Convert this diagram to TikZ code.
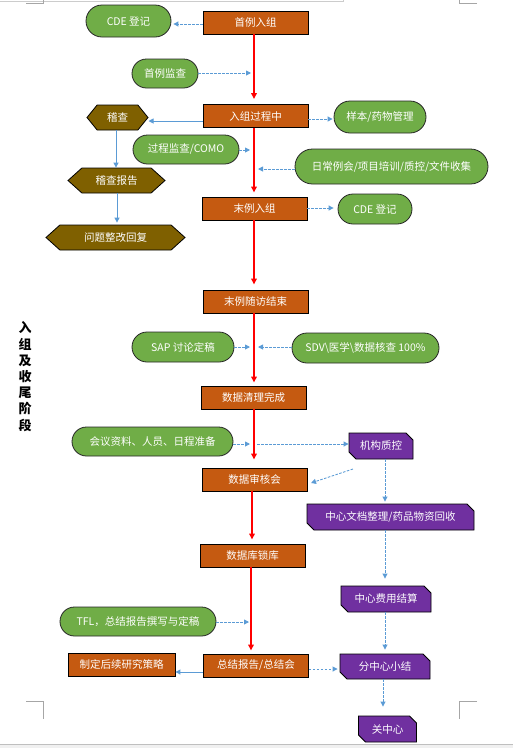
\documentclass[tikz,border=0pt]{standalone}
\usepackage{fontspec}
\newfontfamily\cjk{Noto Sans CJK SC}
\usetikzlibrary{arrows.meta,shapes.misc,shapes.symbols}
\definecolor{og}{HTML}{C55A11}
\definecolor{gr}{HTML}{70AD47}
\definecolor{br}{HTML}{7F6000}
\definecolor{pu}{HTML}{7030A0}
\definecolor{bl}{HTML}{5B9BD5}
\definecolor{pg}{HTML}{A6A6A6}
\tikzset{
  txt/.style={font=\cjk\fontsize{10.5}{12}\selectfont, text=white, inner sep=0pt},
  obox/.style={txt, rectangle, draw=black, line width=0.9pt, fill=og, minimum width=105pt, minimum height=23pt},
  gbox/.style={txt, rounded rectangle, draw=black!85, line width=0.8pt, fill=gr, minimum height=29pt},
  hbox/.style={txt, signal, signal to=west and east, draw=black, line width=0.8pt, fill=br, minimum height=25pt},
  pbox/.style={txt, chamfered rectangle, chamfered rectangle corners={north east,south west},
    chamfered rectangle xsep=3.5pt, chamfered rectangle ysep=3.5pt, draw=black, line width=0.9pt, fill=pu, minimum height=26pt},
  redarr/.style={draw=red, line width=1.8pt, -{Triangle[length=6pt,width=5.5pt]}},
  bldash/.style={draw=bl, line width=0.9pt, dash pattern=on 2.5pt off 1.5pt, -{Triangle[length=5pt,width=5pt]}},
  blsolid/.style={draw=bl, line width=1pt, -{Triangle[length=5pt,width=5pt]}},
  pagemark/.style={draw=pg, line width=0.8pt},
  sidetxt/.style={font=\cjk\bfseries\fontsize{13}{16.2}\selectfont, text=black, align=center, inner sep=0pt}
}
\begin{document}
\begin{tikzpicture}[x=1pt,y=-1pt]
\useasboundingbox (0,0) rectangle (513,748);
% page artefacts
\fill[black!6] (0,744) rectangle (513,748);
\draw[draw=black!25, line width=0.8pt] (0,744) -- (513,744);
\draw[draw=black!20, line width=0.8pt] (0,1.5) -- (343,1.5) -- (343,0);
\draw[pagemark] (26,3) -- (43,3) -- (43,0);
\draw[pagemark] (477,3) -- (459,3) -- (459,0);
\draw[pagemark] (26,701) -- (43,701) -- (43,719);
\draw[pagemark] (477,701) -- (459,701) -- (459,719);

% side title
\node[sidetxt] (title) at (25,376.5) {入\\组\\及\\收\\尾\\阶\\段};

% main column
\node[obox] (A) at (255.5,22.5) {首例入组};
\node[obox] (B) at (255.5,116) {入组过程中};
\node[obox] (C) at (254.5,208.5) {末例入组};
\node[obox] (D) at (255.5,301.5) {末例随访结束};
\node[obox] (E) at (253.5,397.5) {数据清理完成};
\node[obox] (F) at (254.5,479.5) {数据审核会};
\node[obox] (G) at (252.5,555.5) {数据库锁库};
\node[obox] (H) at (256,665.5) {总结报告/总结会};
\node[obox, minimum width=107pt] (I) at (121.5,664.5) {制定后续研究策略};

% green
\node[gbox, minimum width=85pt, minimum height=32pt] (g1) at (128.5,21) {CDE 登记};
\node[gbox, minimum width=66pt] (g2) at (165,73.5) {首例监查};
\node[gbox, minimum width=92pt, minimum height=32pt] (g3) at (380,117) {样本/药物管理};
\node[gbox, minimum width=106pt] (g4) at (186,149.5) {过程监查/COMO};
\node[gbox, minimum width=193pt, minimum height=35pt] (g5) at (391.5,166.5) {日常例会/项目培训/质控/文件收集};
\node[gbox, minimum width=74pt, minimum height=30pt] (g6) at (375,209) {CDE 登记};
\node[gbox, minimum width=102pt, minimum height=30pt] (g7) at (183,347) {SAP 讨论定稿};
\node[gbox, minimum width=147pt, minimum height=30pt] (g8) at (365.5,348) {SDV\textbackslash 医学\textbackslash 数据核查 100\%};
\node[gbox, minimum width=161pt] (g9) at (152.5,441.5) {会议资料、人员、日程准备};
\node[gbox, minimum width=156pt] (g10) at (138,621.5) {TFL，总结报告撰写与定稿};

% hexagons
\node[hbox, minimum width=61pt, signal pointer angle=102] (h1) at (117.5,117.5) {稽查};
\node[hbox, minimum width=97pt, signal pointer angle=84] (h2) at (116.5,180.5) {稽查报告};
\node[hbox, minimum width=139pt, signal pointer angle=84] (h3) at (115.5,237.5) {问题整改回复};

% purple
\node[pbox, minimum width=64pt] (p1) at (381,446) {机构质控};
\node[pbox, minimum width=167pt] (p2) at (390.5,517) {中心文档整理/药品物资回收};
\node[pbox, minimum width=90pt] (p3) at (386,599) {中心费用结算};
\node[pbox, minimum width=90pt, minimum height=25pt] (p4) at (385,666.5) {分中心小结};
\node[pbox, minimum width=58pt] (p5) at (387.5,729) {关中心};

% red main flow
\draw[redarr, shorten >=5pt] (A.south -| 254,0) -- (B.north -| 254,0);
\draw[redarr, shorten >=4pt] (B.south -| 254,0) -- (C.north -| 254,0);
\draw[redarr, shorten >=5pt] (C.south -| 254,0) -- (D.north -| 254,0);
\draw[redarr, shorten >=3pt] (D.south -| 254,0) -- (E.north -| 254,0);
\draw[redarr, shorten >=8pt] (E.south -| 254,0) -- (F.north -| 254,0);
\draw[redarr, shorten >=4pt] (F.south -| 252,0) -- (G.north -| 252,0);
\draw[redarr, shorten >=3pt] (G.south -| 251,0) -- (H.north -| 251,0);

% free ends on the main line
\coordinate (c2) at (251,73);
\coordinate (c4) at (250,150);
\coordinate (c5) at (258,169);
\coordinate (c7) at (250,347);
\coordinate (c8) at (258,347);
\coordinate (c9) at (250,444);
\coordinate (c9b) at (257,444);
\coordinate (q1) at (353,469);
\coordinate (q2) at (311,483);
\coordinate (c10) at (249,622);

% blue connectors
\draw[bldash, shorten >=2pt] (A.west |- 0,24) -- (g1.east |- 0,24);
\draw[bldash] (g2.east |- c2) -- (c2);
\draw[blsolid] (B.west |- 0,121) -- (h1.east |- 0,121);
\draw[bldash, shorten >=1pt] (B.east |- 0,119) -- (g3.west |- 0,119);
\draw[bldash] (g4.east |- c4) -- (c4);
\draw[bldash] (g5.west |- c5) -- (c5);
\draw[bldash, shorten >=4pt] (C.east |- 0,208) -- (g6.west |- 0,208);
\draw[blsolid] (h1.south -| 116,0) -- (h2.north -| 116,0);
\draw[blsolid, shorten >=2pt] (h2.south -| 117,0) -- (h3.north -| 117,0);
\draw[bldash] (g7.east |- c7) -- (c7);
\draw[bldash] (g8.west |- c8) -- (c8);
\draw[bldash] (g9.east |- c9) -- (c9);
\draw[bldash] (c9b) -- (p1.west |- c9b);
\draw[bldash] (q1) -- (q2);
\draw[bldash, shorten >=2pt] (p1.south -| 385,0) -- (p2.north -| 385,0);
\draw[bldash, shorten >=7pt] (p2.south -| 385,0) -- (p3.north -| 385,0);
\draw[bldash, shorten >=4pt] (p3.south -| 385,0) -- (p4.north -| 385,0);
\draw[bldash, shorten >=9pt] (p4.south -| 383,0) -- (p5.north -| 383,0);
\draw[bldash] (g10.east |- c10) -- (c10);
\draw[blsolid] (H.west |- 0,672) -- (I.east |- 0,672);
\draw[bldash, shorten >=2pt] (H.east |- 0,669) -- (p4.west |- 0,669);
\end{tikzpicture}
\end{document}
